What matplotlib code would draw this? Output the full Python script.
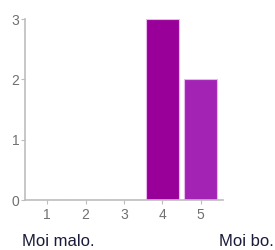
import matplotlib
matplotlib.use('Agg')
import matplotlib.pyplot as plt

plt.rcParams['font.family'] = ['Liberation Sans', 'DejaVu Sans']

# data
categories = [1, 2, 3, 4, 5]
counts = [0, 0, 0, 3, 2]
colors = ['#990099', '#990099', '#990099', '#990099', '#a323b5']
yticks = [0, 1, 2, 3]

fig = plt.figure(figsize=(2.75, 2.5), dpi=100)
ax = fig.add_axes([25 / 275, 50 / 250, 198 / 275, 181 / 250])

ax.bar(categories, counts, width=0.86, color=colors, edgecolor='#e8b8ee', linewidth=0.8)

ax.set_xlim(0.42, 5.58)
ax.set_ylim(0, 3)
ax.set_xticks(categories)
ax.set_yticks(yticks)

for side in ['top', 'right']:
    ax.spines[side].set_visible(False)
for side in ['left', 'bottom']:
    ax.spines[side].set_color('#bdbdbd')
    ax.spines[side].set_linewidth(1.2)

ax.tick_params(axis='both', colors='#bdbdbd', labelcolor='#707070', labelsize=10,
               length=3, width=0.8)
ax.tick_params(axis='x', pad=3)
ax.tick_params(axis='y', pad=1)

fig.text(22 / 275, 1 - 242 / 250, 'Moi malo.', fontsize=12, color='#1a1a3a',
         ha='left', va='center')
fig.text(274 / 275, 1 - 242 / 250, 'Moi bo.', fontsize=12, color='#1a1a3a',
         ha='right', va='center')

fig.savefig('out.png', dpi=100)
